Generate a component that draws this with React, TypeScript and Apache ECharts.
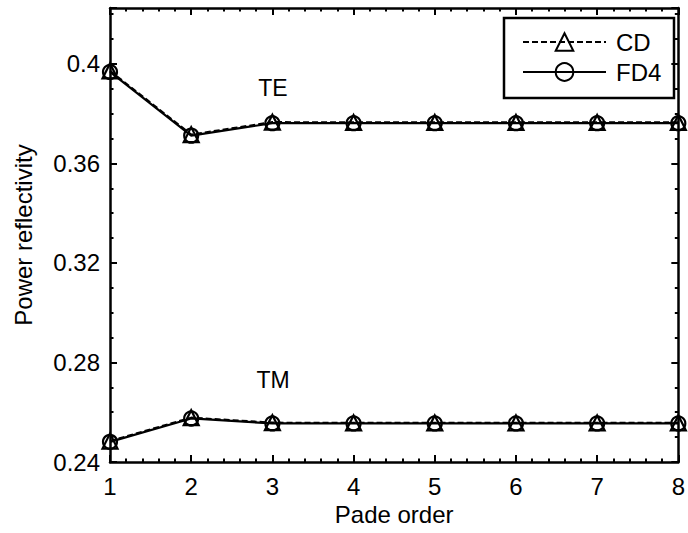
import React, { useEffect, useRef } from "react";
import * as echarts from "echarts";

// Pade order (x) and power reflectivity for both schemes and polarisations
const padeOrders = [1, 2, 3, 4, 5, 6, 7, 8];
const teCD = [0.3972, 0.3716, 0.3766, 0.3765, 0.3765, 0.3765, 0.3765, 0.3765];
const teFD4 = [0.3968, 0.3712, 0.3762, 0.3762, 0.3762, 0.3762, 0.3762, 0.3762];
const tmCD = [0.2484, 0.2578, 0.2558, 0.2557, 0.2557, 0.2557, 0.2557, 0.2557];
const tmFD4 = [0.2481, 0.2575, 0.2555, 0.2555, 0.2555, 0.2555, 0.2555, 0.2555];
const yTicks = [0.24, 0.28, 0.32, 0.36, 0.4];

const FONT = "Liberation Sans, Arial, sans-serif";
const Y_MAX = 0.4225;

const pairs = (ys: number[]) => padeOrders.map((x, i) => [x, ys[i]]);

const commonAxis = {
  axisLine: { show: true, onZero: false, lineStyle: { color: "#000", width: 2.5 } },
  axisTick: { show: true, inside: true, length: 7, lineStyle: { color: "#000", width: 2 } },
  minorTick: { show: true, length: 3.5, lineStyle: { color: "#000", width: 2 } },
  splitLine: { show: false },
  minorSplitLine: { show: false },
};

export default function App() {
  const ref = useRef<HTMLDivElement>(null);

  useEffect(() => {
    if (!ref.current) return;
    const chart = echarts.init(ref.current, undefined, { renderer: "svg" });

    const lineSeries = (name: string, ys: number[], dashed: boolean, symbol: string) => ({
      name,
      type: "line",
      data: pairs(ys),
      xAxisIndex: 0,
      yAxisIndex: 0,
      symbol,
      symbolSize: symbol === "triangle" ? 15 : 14,
      showAllSymbol: true,
      clip: false,
      lineStyle: { color: "#000", width: 2.2, type: dashed ? [6, 3] : "solid" },
      itemStyle: { color: "rgba(0,0,0,0)", borderColor: "#000", borderWidth: 2.2 },
      emphasis: { disabled: true },
    });

    chart.setOption({
      animation: false,
      backgroundColor: "#fff",
      textStyle: { fontFamily: FONT },
      grid: { left: 110, right: 4, top: 8, bottom: 71 },
      xAxis: [
        {
          ...commonAxis,
          type: "value",
          min: 1,
          max: 8,
          interval: 1,
          position: "bottom",
          minorTick: { ...commonAxis.minorTick, splitNumber: 5 },
          axisLabel: {
            color: "#000",
            fontSize: 24,
            margin: 12,
            fontFamily: FONT,
            alignMaxLabel: "center",
            alignMinLabel: "center",
          },
          name: "Pade order",
          nameLocation: "middle",
          nameGap: 38,
          nameTextStyle: { color: "#000", fontSize: 24, fontFamily: FONT },
        },
        {
          ...commonAxis,
          type: "value",
          min: 1,
          max: 8,
          interval: 1,
          position: "top",
          minorTick: { ...commonAxis.minorTick, splitNumber: 5 },
          axisLabel: { show: false },
        },
      ],
      yAxis: [
        {
          ...commonAxis,
          type: "value",
          min: 0.24,
          max: Y_MAX,
          interval: 0.04,
          position: "left",
          minorTick: { ...commonAxis.minorTick, splitNumber: 4 },
          axisLabel: {
            color: "#000",
            fontSize: 24,
            margin: 10,
            fontFamily: FONT,
            showMaxLabel: false,
            formatter: (v: number) => {
              const t = yTicks.find((k) => Math.abs(k - v) < 1e-6);
              return t === undefined ? "" : String(t);
            },
          },
          name: "Power reflectivity",
          nameLocation: "middle",
          nameGap: 75,
          nameTextStyle: { color: "#000", fontSize: 24, fontFamily: FONT },
        },
        {
          ...commonAxis,
          type: "value",
          min: 0.24,
          max: Y_MAX,
          interval: 0.04,
          position: "right",
          minorTick: { ...commonAxis.minorTick, splitNumber: 4 },
          axisLabel: { show: false },
        },
      ],
      legend: {
        data: ["CD", "FD4"],
        orient: "vertical",
        left: 522,
        top: 30,
        padding: 0,
        itemWidth: 83,
        itemHeight: 22,
        itemGap: 6,
        textStyle: { color: "#000", fontSize: 24, fontFamily: FONT, padding: [0, 0, 0, 5] },
      },
      graphic: [
        {
          type: "rect",
          shape: { x: 504, y: 18, width: 170, height: 80 },
          style: { fill: "none", stroke: "#000", lineWidth: 2.5 },
          z: 5,
        },
        {
          type: "text",
          x: 273,
          y: 88,
          style: { text: "TE", fill: "#000", font: `23px ${FONT}`, align: "center", verticalAlign: "middle" },
          z: 100,
        },
        {
          type: "text",
          x: 273,
          y: 380,
          style: { text: "TM", fill: "#000", font: `23px ${FONT}`, align: "center", verticalAlign: "middle" },
          z: 100,
        },
      ],
      series: [
        lineSeries("CD", teCD, true, "triangle"),
        lineSeries("FD4", teFD4, false, "circle"),
        lineSeries("CD", tmCD, true, "triangle"),
        lineSeries("FD4", tmFD4, false, "circle"),
      ],
    });

    return () => chart.dispose();
  }, []);

  return <div ref={ref} style={{ width: 688, height: 533, position: "absolute", left: 0, top: 0 }} />;
}
